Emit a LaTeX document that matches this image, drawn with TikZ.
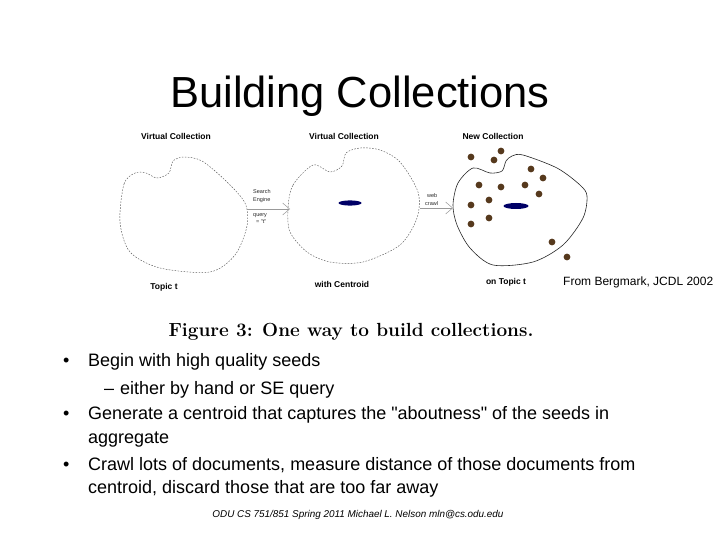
\documentclass[tikz,border=0pt]{standalone}
\usepackage{fontspec}
\newfontfamily\arialfont{Liberation Sans}
\usetikzlibrary{arrows.meta}

\begin{document}
\begin{tikzpicture}[x=1pt,y=-1pt,
    blobdash/.style={gray!70!black, line width=0.45pt, dash pattern=on 1.6pt off 1.4pt},
    blobsolid/.style={black!85, line width=0.6pt},
    flowarrow/.style={gray!80, line width=0.5pt, -{Straight Barb[length=7pt,width=12pt]}},
    boxlabel/.style={font=\arialfont\bfseries\fontsize{8.5}{10}\selectfont, anchor=base},
    tinylabel/.style={font=\arialfont\fontsize{5.5}{6}\selectfont, anchor=base west, inner sep=0pt, gray!30!black},
    slidetext/.style={font=\arialfont\fontsize{18}{20}\selectfont, anchor=base west, inner sep=0pt}]
				\useasboundingbox (0,0) rectangle (720,540);
				\node [font=\arialfont\fontsize{43.5}{50}\selectfont, anchor=base] (title) at (360,108) {Building Collections};
				% three collections
				\draw [blobdash] plot [smooth cycle] coordinates {(120,222) (124,184) (135,173) (146,173) (157,178) (169,173) (173,161) (184,157) (202,161) (226,181) (245,203) (247,226) (235,255) (210,272) (160,268) (130,252)};
				\draw [blobdash] plot [smooth cycle] coordinates {(288,208) (293,185) (313,165) (330,172) (342,166) (346,153) (360,148) (380,150) (400,162) (418,192) (417,218) (400,245) (363,262) (330,262) (307,252) (290,232)};
				\draw [blobsolid] plot [smooth cycle] coordinates {(453,205) (458,183) (473,168) (490,173) (502,171) (506,161) (512,156) (523,155) (557,168) (580,185) (587,196) (583,218) (563,245) (533,262) (493,265) (470,248) (457,225)};
				\fill [blue!40!black] (350,203) ellipse (11.5 and 2.6);
				\fill [blue!40!black] (516,206) ellipse (12.5 and 3);
				\fill [brown!45!black] (471,157) circle (3.4);
				\fill [brown!45!black] (494,160) circle (3.4);
				\fill [brown!45!black] (501,151) circle (3.4);
				\fill [brown!45!black] (531,169) circle (3.4);
				\fill [brown!45!black] (543,178) circle (3.4);
				\fill [brown!45!black] (479,185) circle (3.4);
				\fill [brown!45!black] (501,187) circle (3.4);
				\fill [brown!45!black] (525,185) circle (3.4);
				\fill [brown!45!black] (539,194) circle (3.4);
				\fill [brown!45!black] (489,200) circle (3.4);
				\fill [brown!45!black] (471,205) circle (3.4);
				\fill [brown!45!black] (489,218) circle (3.4);
				\fill [brown!45!black] (471,224) circle (3.4);
				\fill [brown!45!black] (552,242) circle (3.4);
				\fill [brown!45!black] (567,257) circle (3.4);
				% arrows between them
				\coordinate (engine tail) at (247,209);
				\coordinate (engine head) at (290,209);
				\coordinate (crawl tail) at (420,208);
				\coordinate (crawl head) at (453,208);
				\draw [flowarrow] (engine tail) -- (engine head);
				\draw [flowarrow] (crawl tail) -- (crawl head);
				\node [tinylabel] (search) at (253,194) {Search};
				\node [tinylabel] (engine) at (253,202) {Engine};
				\node [tinylabel] (query) at (253,216) {query};
				\node [tinylabel] (quoted) at (256,224) {= "t"};
				\node [tinylabel] (web) at (427,197) {web};
				\node [tinylabel] (crawl) at (425,206) {crawl};
				% labels
				\node [boxlabel] (virtual a) at (176,140) {Virtual Collection};
				\node [boxlabel] (virtual b) at (344,140) {Virtual Collection};
				\node [boxlabel] (newcoll) at (493,140) {New Collection};
				\node [boxlabel] (topic) at (164,289) {Topic t};
				\node [boxlabel] (centroid) at (342,287) {with Centroid};
				\node [boxlabel] (ontopic) at (506,284) {on Topic t};
				\node [font=\arialfont\fontsize{12}{14}\selectfont, anchor=base west, inner sep=0pt] (source) at (563,285) {From Bergmark, JCDL 2002};
				\node [font=\bfseries\fontsize{19}{22}\selectfont, anchor=base] (figcap) at (351,336) {Figure 3: One way to build collections.};
				% bullets
				\node [slidetext] (dot a) at (63,366) {•};
				\node [slidetext] (line a) at (88,366) {Begin with high quality seeds};
				\node [slidetext] (dash b) at (104,394) {–};
				\node [slidetext] (line b) at (120,394) {either by hand or SE query};
				\node [slidetext] (dot c) at (63,419) {•};
				\node [slidetext] (line c) at (88,419) {Generate a centroid that captures the "aboutness" of the seeds in};
				\node [slidetext] (line d) at (88,443) {aggregate};
				\node [slidetext] (dot e) at (63,470) {•};
				\node [slidetext] (line e) at (88,470) {Crawl lots of documents, measure distance of those documents from};
				\node [slidetext] (line f) at (88,493) {centroid, discard those that are too far away};
				\node [font=\arialfont\itshape\fontsize{9.9}{11}\selectfont, anchor=base] (footer) at (358,517) {ODU CS 751/851 Spring 2011 Michael L. Nelson mln@cs.odu.edu};
			\end{tikzpicture}
\end{document}
